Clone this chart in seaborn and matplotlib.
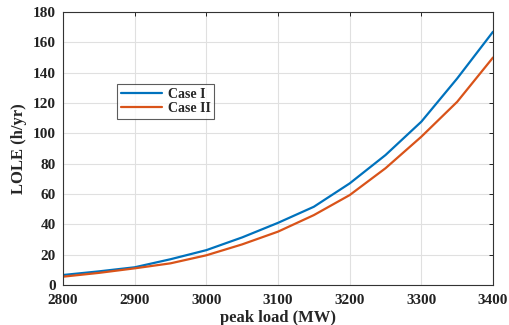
import numpy as np
import pandas as pd
import seaborn as sns
import matplotlib
matplotlib.use("Agg")
import matplotlib.pyplot as plt

peak_load = [2800, 2850, 2900, 2950, 3000, 3050, 3100, 3150, 3200, 3250, 3300, 3350, 3400]
case1 = [6.6, 9.0, 11.7, 17.0, 23.0, 31.4, 41.0, 51.6, 67.0, 85.7, 107.7, 136.2, 167.0]
case2 = [5.5, 8.0, 11.0, 14.3, 19.6, 26.8, 35.2, 46.1, 59.3, 77.0, 97.8, 120.8, 150.0]
series_names = ["Case I", "Case II"]

df = pd.DataFrame({
    "peak": peak_load * 2,
    "lole": case1 + case2,
    "case": [series_names[0]] * len(peak_load) + [series_names[1]] * len(peak_load),
})

sns.set_theme(style="white")
plt.rcParams['font.family'] = ['Liberation Serif', 'DejaVu Serif']
plt.rcParams['font.weight'] = 'bold'

fig = plt.figure(figsize=(5.1, 3.25), dpi=100)
ax = fig.add_axes([0.1235, 0.123, 0.8432, 0.840])
sns.lineplot(data=df, x="peak", y="lole", hue="case",
             palette=["#0072BD", "#D95319"], linewidth=1.6, ax=ax)

ax.set_xlim(2800, 3400)
ax.set_ylim(0, 180)
ax.set_xticks(np.arange(2800, 3401, 100))
ax.set_yticks(np.arange(0, 181, 20))
ax.grid(True, color="#e0e0e0", linewidth=0.8)
ax.tick_params(direction="in", length=3, top=True, right=True, labelsize=11,
               colors="#222222", width=0.7)
ax.tick_params(axis="x", pad=6.5)
ax.tick_params(axis="y", pad=5)
for lbl in ax.get_xticklabels() + ax.get_yticklabels():
    lbl.set_fontweight("bold")
for s in ax.spines.values():
    s.set_color("#333333")
    s.set_linewidth(0.8)
ax.set_xlabel("peak load (MW)", fontsize=12, fontweight="bold")
ax.xaxis.set_label_coords(0.5, -0.09)
ax.set_ylabel("LOLE (h/yr)", fontsize=12, fontweight="bold", labelpad=4)

leg = ax.legend(loc="upper left", bbox_to_anchor=(0.11, 0.76), frameon=True,
                fancybox=False, edgecolor="#333333", fontsize=10,
                handlelength=3.0, borderpad=0.25, labelspacing=0.1, handletextpad=0.4)
leg.get_frame().set_linewidth(0.8)
for t in leg.get_texts():
    t.set_fontweight("bold")

fig.savefig("out.png", dpi=100)
